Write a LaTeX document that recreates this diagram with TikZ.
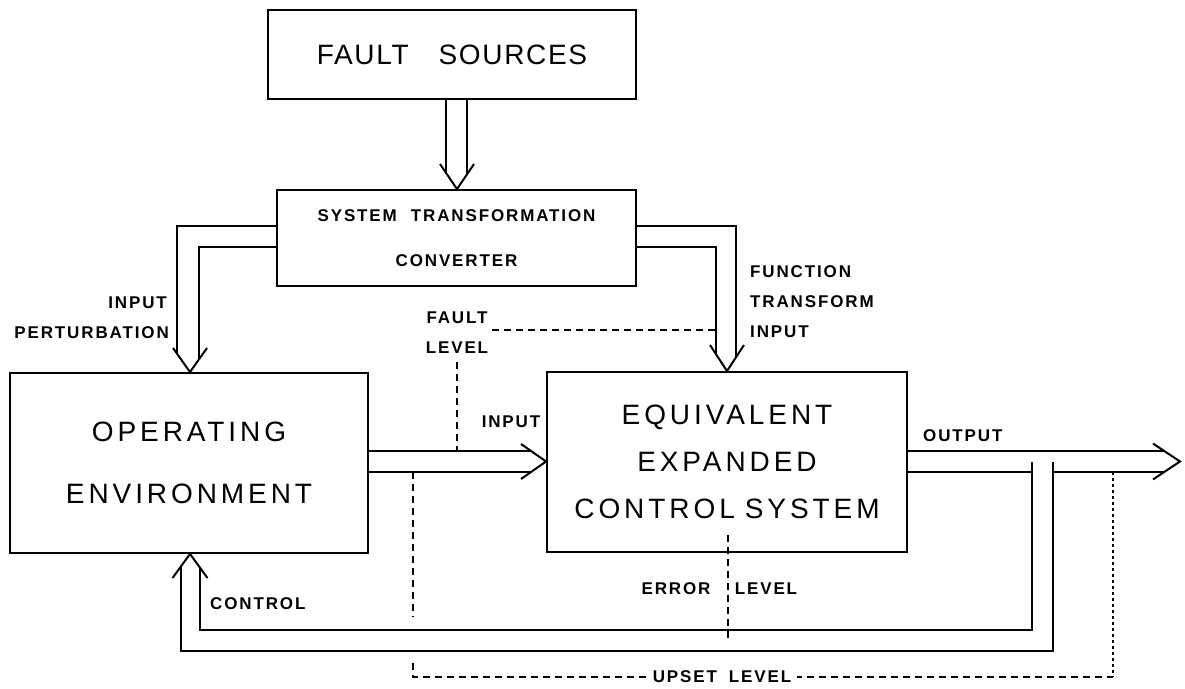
\documentclass[tikz,border=0pt]{standalone}
\usepackage{fontspec}
\setmainfont{Liberation Sans}
\newfontfamily\bigfont[LetterSpace=14]{Liberation Sans}
\newfontfamily\fsfont[LetterSpace=6]{Liberation Sans}
\newfontfamily\labfont[LetterSpace=11]{Liberation Sans}
\begin{document}
\begin{tikzpicture}[x=1pt,y=-1pt,
  box/.style={draw, line width=1.9pt, inner sep=0pt},
  pipe/.style={line width=2pt, line join=miter},
  head/.style={line width=2pt, line join=miter},
  lvl/.style={line width=1.5pt, dash pattern=on 7pt off 5pt},
  lab/.style={font=\labfont\bfseries\fontsize{17}{20}\selectfont, inner sep=0pt}]
\useasboundingbox (0,0) rectangle (1185,688);

% boxes
\node[box, minimum width=368pt, minimum height=89pt,
      font=\fsfont\fontsize{28}{30}\selectfont] (fs) at (452,54.5) {FAULT\hspace{30pt}SOURCES};
\node[box, minimum width=359pt, minimum height=96pt, align=center,
      font=\labfont\bfseries\fontsize{17}{45}\selectfont] (conv) at (456.5,238) {SYSTEM\hspace{14pt}TRANSFORMATION\\CONVERTER};
\node[box, minimum width=358pt, minimum height=180pt, align=center,
      font=\bigfont\fontsize{28}{62}\selectfont] (oe) at (189,463) {OPERATING\\ENVIRONMENT};
\node[box, minimum width=360pt, minimum height=180pt, align=center,
      font=\bigfont\fontsize{28}{47}\selectfont] (ecs) at (727,462) {EQUIVALENT\\EXPANDED\\CONTROL\hspace{10pt}SYSTEM};

% fault sources -> converter
\draw[pipe] (446,0 |- fs.south) -- (446,173.2);
\draw[pipe] (467,0 |- fs.south) -- (467,174.7);
\draw[head] (440,164) -- (457,0 |- conv.north) -- (474,164);

% converter -> operating environment (input perturbation)
\draw[pipe] (conv.west |- 0,226) -- (177,226) -- (177,353.9);
\draw[pipe] (conv.west |- 0,247) -- (199,247) -- (199,359.8);
\draw[head] (173,348) -- (190,0 |- oe.north) -- (207,348);

% converter -> control system (function transform input)
\draw[pipe] (conv.east |- 0,226) -- (736,226) -- (736,357.7);
\draw[pipe] (conv.east |- 0,247) -- (716,247) -- (716,354.5);
\draw[head] (710,345) -- (727,0 |- ecs.north) -- (744,345);

% operating environment -> control system (input)
\draw[pipe] (oe.east |- 0,451) -- (531.4,451);
\draw[pipe] (oe.east |- 0,472) -- (531.4,472);
\draw[head] (521,444) -- (ecs.west |- 0,461.5) -- (521,479);

% output
\coordinate (outtip) at (1180,461.5);
\draw[pipe] (ecs.east |- 0,451) -- (1164.3,451);
\draw[pipe] (ecs.east |- 0,472) -- (1032,472);
\draw[pipe] (1053,472) -- (1164.3,472);
\draw[head] (1153,443.5) -- (outtip) -- (1153,479.5);

% feedback (control)
\draw[pipe] (1032,462) -- (1032,630) -- (200,630) -- (200,567.3);
\draw[pipe] (1053,462) -- (1053,651) -- (181,651) -- (181,565.9);
\draw[head] (172.5,578) -- (190,0 |- oe.south) -- (207.5,578);

% level lines
\draw[lvl] (492,330) -- (716,330);
\draw[lvl] (457,362) -- (457,451);
\draw[lvl] (413,472) -- (413,617);
\draw[lvl] (413,663) -- (413,677) -- (1113,677);
\draw[line width=1.5pt, dash pattern=on 3pt off 3pt] (1113,472) -- (1113,677);
\draw[lvl] (728,535) -- (728,642);

% labels
\node[lab, anchor=east] (inp1) at (167,303) {INPUT};
\node[lab, anchor=east] (pert) at (169,333) {PERTURBATION};
\node[lab, anchor=west] (fn1) at (750,272) {FUNCTION};
\node[lab, anchor=west] (fn2) at (750,302) {TRANSFORM};
\node[lab, anchor=west] (fn3) at (750,332) {INPUT};
\node[lab] (fl1) at (457,318) {FAULT};
\node[lab] (fl2) at (457,348) {LEVEL};
\node[lab] (inp2) at (511,422) {INPUT};
\node[lab, anchor=west] (outl) at (923,436) {OUTPUT};
\node[lab, anchor=west] (ctl) at (210,604) {CONTROL};
\node[lab] (err1) at (676,589) {ERROR};
\node[lab] (err2) at (766,589) {LEVEL};
\node[lab, fill=white, inner xsep=6pt, inner ysep=3pt] (ups) at (722,677) {UPSET\hspace{12pt}LEVEL};
\end{tikzpicture}
\end{document}
